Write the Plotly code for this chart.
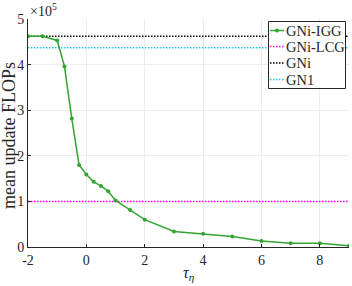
import plotly.graph_objects as go

tau = [-2, -1.5, -1, -0.75, -0.5, -0.25, 0, 0.25, 0.5, 0.75, 1, 1.5, 2, 3, 4, 5, 6, 7, 8, 9]
flops_igg = [4.62e5, 4.62e5, 4.53e5, 3.96e5, 2.82e5, 1.80e5, 1.59e5, 1.43e5, 1.34e5, 1.22e5,
             1.02e5, 0.81e5, 0.60e5, 0.34e5, 0.29e5, 0.23e5, 0.13e5, 0.08e5, 0.08e5, 0.03e5]
flops_lcg = 1.0e5
flops_gni = 4.62e5
flops_gn1 = 4.37e5

x_ticks = [-2, 0, 2, 4, 6, 8]
x_ticktext = ["-2", "0", "2", "4", "6", "8"]
y_ticks = [0, 1e5, 2e5, 3e5, 4e5, 5e5]
y_ticktext = ["0", "1", "2", "3", "4", "5"]
legend_names = ["GNi-IGG", "GNi-LCG", "GNi", "GN1"]

GREEN = "#33a532"
MAGENTA = "#ff00ff"
BLACK = "#000000"
CYAN = "#1ec8f0"
FONT = "Liberation Serif"
DOT = "1.5px,1.5px"

W, H = 352, 286
L, R, T, B = 28, 3, 19, 39
pw, ph = W - L - R, H - T - B

def px(x):
    return (x - L) / pw

def py(y):
    return (H - B - y) / ph

fig = go.Figure()
xr = [tau[0], tau[-1]]
fig.add_trace(go.Scatter(x=xr, y=[flops_gni] * 2, mode="lines",
                         line=dict(color=BLACK, width=1.5, dash=DOT), showlegend=False))
fig.add_trace(go.Scatter(x=xr, y=[flops_gn1] * 2, mode="lines",
                         line=dict(color=CYAN, width=1.5, dash=DOT), showlegend=False))
fig.add_trace(go.Scatter(x=xr, y=[flops_lcg] * 2, mode="lines",
                         line=dict(color=MAGENTA, width=1.5, dash=DOT), showlegend=False))
fig.add_trace(go.Scatter(x=tau, y=flops_igg, mode="lines+markers",
                         line=dict(color=GREEN, width=1.5),
                         marker=dict(color=GREEN, size=4), showlegend=False))

axis_common = dict(showgrid=True, gridcolor="#ececec", gridwidth=1, zeroline=False,
                   showline=True, linecolor="#262626", linewidth=1,
                   ticks="inside", ticklen=3, tickcolor="#262626",
                   tickfont=dict(family=FONT, size=14, color="#262626"))
fig.update_xaxes(range=[-2, 9], tickvals=x_ticks, ticktext=x_ticktext, **axis_common)
fig.update_yaxes(range=[0, 5e5], tickvals=y_ticks, ticktext=y_ticktext, **axis_common)

shapes = []
annotations = []
# legend box
lx0, lx1, ly0, ly1 = 268.5, 345.5, 21.5, 88.5
shapes.append(dict(type="rect", xref="paper", yref="paper", x0=px(lx0), x1=px(lx1),
                   y0=py(ly1), y1=py(ly0), line=dict(color="#262626", width=1),
                   fillcolor="white", layer="above"))
rows = [30.5, 46.5, 63, 79.5]
styles = [(GREEN, "solid"), (MAGENTA, DOT), (BLACK, DOT), (CYAN, DOT)]
for name, yy, (c, d) in zip(legend_names, rows, styles):
    shapes.append(dict(type="line", xref="paper", yref="paper", x0=px(270), x1=px(284),
                       y0=py(yy), y1=py(yy), line=dict(color=c, width=1.5, dash=d), layer="above"))
    if d == "solid":
        shapes.append(dict(type="circle", xref="paper", yref="paper", x0=px(275), x1=px(279),
                           y0=py(yy + 2), y1=py(yy - 2), fillcolor=c, line=dict(color=c, width=0),
                           layer="above"))
    annotations.append(dict(text=name, xref="paper", yref="paper", x=px(283.5), y=py(yy),
                            xanchor="left", yanchor="middle", showarrow=False,
                            font=dict(family=FONT, size=14.5, color="#262626")))

annotations.append(dict(text="×10<sup>5</sup>", xref="paper", yref="paper", x=0, y=1,
                        xanchor="left", yanchor="bottom", showarrow=False, yshift=-2,
                        font=dict(family=FONT, size=14, color="#262626")))
annotations.append(dict(text="mean update FLOPs", xref="paper", yref="paper", x=px(9), y=py(136),
                        xanchor="center", yanchor="middle", textangle=-90, showarrow=False,
                        font=dict(family=FONT, size=18, color="#262626")))
annotations.append(dict(text="<i>τ</i><sub><i>η</i></sub>", xref="paper", yref="paper",
                        x=0.5, y=py(273),
                        xanchor="center", yanchor="middle", showarrow=False,
                        font=dict(family=FONT, size=16, color="#262626")))

fig.update_layout(width=W, height=H, margin=dict(l=L, r=R, t=T, b=B),
                  plot_bgcolor="white", paper_bgcolor="white",
                  shapes=shapes, annotations=annotations, showlegend=False)

fig.write_html("out.html", config={"displayModeBar": False},
               post_script="document.body.style.margin='0';")
